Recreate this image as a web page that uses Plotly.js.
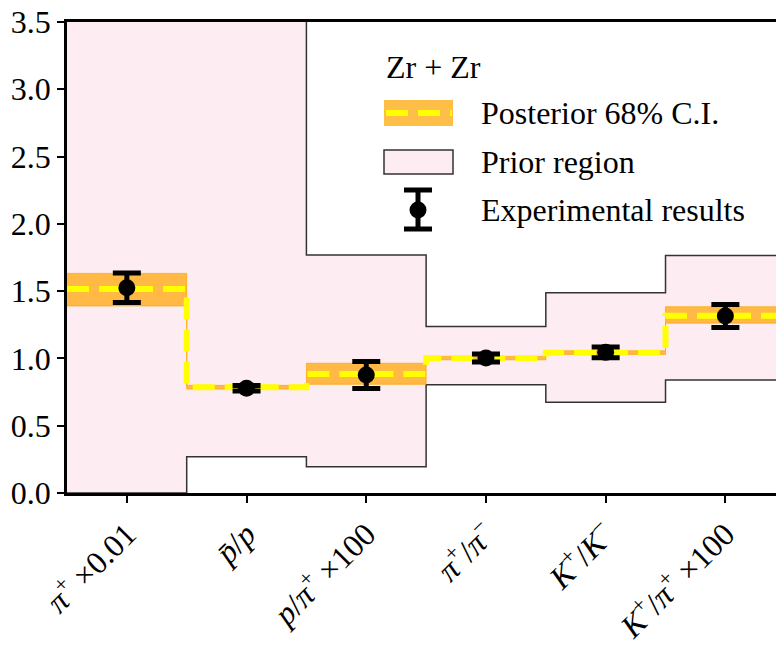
<!DOCTYPE html>
<html>
<head>
<meta charset="utf-8">
<script src="https://cdn.plot.ly/plotly-3.0.1.min.js"></script>
<style>html, body { margin: 0; padding: 0; }</style>
</head>
<body>
<div id="chart" style="width:776px;height:651px"></div>
<script>
// Observables (category positions 0..5 on a linear axis)
const positions = [0, 1, 2, 3, 4, 5];
const tickLabels = [
  '<i>π</i><sup>+</sup> ×0.01',
  '<i>p̄</i>/<i>p</i>',
  '<i>p</i>/<i>π</i><sup>+</sup> ×100',
  '<i>π</i><sup>+</sup>/<i>π</i><sup>−</sup>',
  '<i>K</i><sup>+</sup>/<i>K</i><sup>−</sup>',
  '<i>K</i><sup>+</sup>/<i>π</i><sup>+</sup> ×100'
];

// Experimental results and their uncertainties
const expValues = [1.525, 0.778, 0.877, 1.003, 1.045, 1.315];
const expErrors = [0.11, 0.02, 0.10, 0.03, 0.04, 0.085];

// Posterior 68% credible interval and median
const postLower  = [1.39, 0.772, 0.808, 0.99, 1.03, 1.262];
const postMedian = [1.515, 0.785, 0.884, 1.003, 1.043, 1.318];
const postUpper  = [1.632, 0.80, 0.964, 1.015, 1.057, 1.384];

// Prior region bounds
const priorLower = [0.0, 0.27, 0.195, 0.805, 0.675, 0.84];
const priorUpper = [4.0, 4.0, 1.768, 1.238, 1.488, 1.765];

// Step outlines: extend each series half a bin past the first and last category
const edgeLeft = positions[0] - 0.5;
const edgeRight = positions[positions.length - 1] + 0.5;
const stepX = [edgeLeft].concat(positions, [edgeRight]);
const stepY = arr => [arr[0]].concat(arr, [arr[arr.length - 1]]);

const serif = 'Liberation Serif';
const pink = '#fdedf2';
const orange = 'rgba(255,165,0,0.72)';

const traces = [
  { x: stepX, y: stepY(priorLower), mode: 'lines', line: { shape: 'hvh', color: '#333333', width: 1.5 },
    hoverinfo: 'skip', showlegend: false },
  { x: stepX, y: stepY(priorUpper), mode: 'lines', fill: 'tonexty', fillcolor: pink,
    line: { shape: 'hvh', color: '#333333', width: 1.5 }, hoverinfo: 'skip', showlegend: false },
  { x: stepX, y: stepY(postLower), mode: 'lines', line: { shape: 'hvh', color: orange, width: 1 },
    hoverinfo: 'skip', showlegend: false },
  { x: stepX, y: stepY(postUpper), mode: 'lines', fill: 'tonexty', fillcolor: orange,
    line: { shape: 'hvh', color: orange, width: 1 }, hoverinfo: 'skip', showlegend: false },
  { x: stepX, y: stepY(postMedian), mode: 'lines',
    line: { shape: 'hvh', color: '#ffff00', width: 6, dash: '22px,10px' }, hoverinfo: 'skip', showlegend: false },
  { x: positions, y: expValues, mode: 'markers', marker: { color: '#000000', size: 17 },
    error_y: { type: 'data', array: expErrors, visible: true, color: '#000000', thickness: 5, width: 14 },
    showlegend: false }
];

// Legend drawn in pixel space of the plot area
const L = 67, T = 22, W = 709, H = 471;
const px = p => (p - L) / W;
const py = p => (T + H - p) / H;

const legendShapes = [
  { type: 'rect', xref: 'paper', yref: 'paper', x0: px(384), x1: px(453), y0: py(126), y1: py(100),
    fillcolor: orange, line: { width: 0 } },
  { type: 'line', xref: 'paper', yref: 'paper', x0: px(386), x1: px(452), y0: py(113), y1: py(113),
    line: { color: '#ffff00', width: 6, dash: '22px,10px' } },
  { type: 'rect', xref: 'paper', yref: 'paper', x0: px(384), x1: px(453), y0: py(174), y1: py(150),
    fillcolor: pink, line: { color: '#333333', width: 1.5 } },
  { type: 'line', xref: 'paper', yref: 'paper', x0: px(418), x1: px(418), y0: py(190), y1: py(229),
    line: { color: '#000000', width: 5 } },
  { type: 'line', xref: 'paper', yref: 'paper', x0: px(404), x1: px(432), y0: py(190), y1: py(190),
    line: { color: '#000000', width: 5 } },
  { type: 'line', xref: 'paper', yref: 'paper', x0: px(404), x1: px(432), y0: py(229), y1: py(229),
    line: { color: '#000000', width: 5 } },
  { type: 'circle', xref: 'paper', yref: 'paper', x0: px(409.5), x1: px(426.5), y0: py(218.5), y1: py(201.5),
    fillcolor: '#000000', line: { width: 0 } }
];

const legendText = [
  { text: 'Zr + Zr', x: px(384), y: py(67) },
  { text: 'Posterior 68% C.I.', x: px(479), y: py(113) },
  { text: 'Prior region', x: px(479), y: py(162) },
  { text: 'Experimental results', x: px(479), y: py(210) }
].map(a => ({
  text: a.text, x: a.x, y: a.y, xref: 'paper', yref: 'paper', xanchor: 'left', yanchor: 'middle',
  showarrow: false, font: { family: serif, size: 32 }
}));

const layout = {
  width: 776, height: 651,
  margin: { l: L, r: 776 - L - W, t: T, b: 651 - T - H, pad: 0 },
  paper_bgcolor: '#ffffff', plot_bgcolor: '#ffffff',
  showlegend: false,
  font: { family: serif, size: 32, color: '#000000' },
  xaxis: {
    range: [edgeLeft, 5.423], tickmode: 'array', tickvals: positions, ticktext: tickLabels,
    tickangle: -45, ticks: 'outside', ticklen: 7, tickwidth: 2, tickcolor: '#000000',
    showline: true, linewidth: 2.5, linecolor: '#000000', mirror: true,
    showgrid: false, zeroline: false, tickfont: { family: serif, size: 32 }
  },
  yaxis: {
    range: [0, 3.5], tickmode: 'linear', tick0: 0, dtick: 0.5, tickformat: '.1f',
    ticks: 'outside', ticklen: 7, tickwidth: 2, tickcolor: '#000000',
    showline: true, linewidth: 2.5, linecolor: '#000000',
    showgrid: false, zeroline: false, tickfont: { family: serif, size: 32 }
  },
  shapes: legendShapes,
  annotations: legendText
};

Plotly.newPlot('chart', traces, layout, { displayModeBar: false });
</script>
</body>
</html>
